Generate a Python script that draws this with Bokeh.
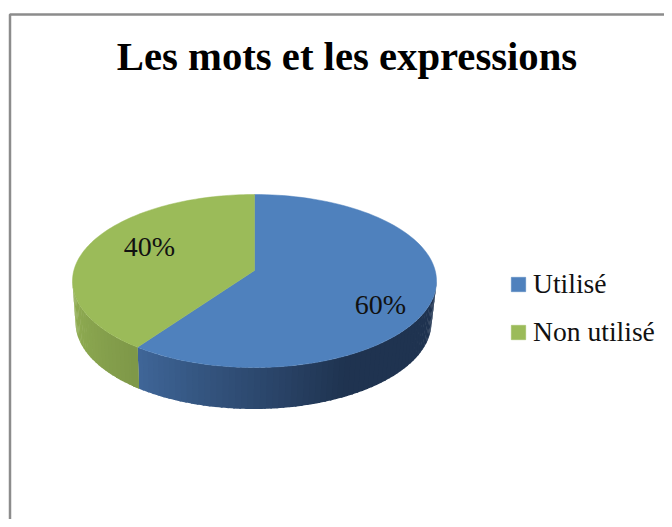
import numpy as np
from bokeh.plotting import figure
from bokeh.models import Range1d, ColumnDataSource, Legend, LegendItem
from bokeh.core.properties import value
from bokeh.embed import file_html
from bokeh.resources import INLINE

title_text = "Les mots et les expressions"
categories = ["Utilisé", "Non utilisé"]
shares = [60, 40]
share_labels = ["60%", "40%"]
top_colors = ["#4f81bd", "#9bbb59"]

FONT = "Liberation Serif"
# layout (picture pixels)
CX, CY, RX, RY = 254.0, 280.5, 182.0, 86.5
BX, BY, BRX, BRY = 253.0, 322.0, 178.0, 86.5
APEX = (254.0, 270.0)
LABEL_XY = [(380, 304), (149, 246)]


def warp(a):
    return a + 4.2 * np.sin(np.radians(2 * a))


def top_pt(a):
    t = np.radians(a)
    return CX + RX * np.sin(t), CY - RY * np.cos(t)


def bot_pt(a):
    t = np.radians(a)
    return BX + BRX * np.sin(t), BY - BRY * np.cos(t)


def lerp(c1, c2, f):
    return "#%02x%02x%02x" % tuple(int(round(a + (b - a) * f)) for a, b in zip(c1, c2))


p = figure(width=664, height=519, x_range=Range1d(0, 664), y_range=Range1d(519, 0),
           toolbar_location=None, output_backend="svg", min_border=0,
           x_axis_type=None, y_axis_type=None, outline_line_color=None)
p.grid.visible = False

# slice angles from values
total = sum(shares)
edges = [0.0]
for s in shares:
    edges.append(edges[-1] + 360.0 * s / total)
ang = [float(warp(e)) for e in edges]

# side wall strips (front half only)
split = ang[1]
xs, ys, cols = [], [], []
ts = np.arange(90.0, 270.0, 2.0)
BLUE_STOPS = [(90, (0x1f, 0x33, 0x50)), (150, (0x1f, 0x33, 0x50)), (220, (0x3f, 0x66, 0x98))]
GREEN_STOPS = [(220, (0x7e, 0x98, 0x48)), (270, (0x93, 0xb0, 0x54))]


def side_color(t, stops):
    for (t0, c0), (t1, c1) in zip(stops, stops[1:]):
        if t <= t1:
            return lerp(c0, c1, max(0.0, (t - t0) / (t1 - t0)))
    return lerp(stops[-1][1], stops[-1][1], 0)


for t in ts:
    t2 = t + 2.6
    if t < split <= t + 2.0:
        t2 = split
    seg = np.linspace(t, t2, 3)
    tx, ty = top_pt(seg)
    bx, by = bot_pt(seg[::-1])
    xs.append(np.concatenate([tx, bx]).tolist())
    ys.append(np.concatenate([ty, by]).tolist())
    cols.append(side_color(t + 1, BLUE_STOPS if t < split else GREEN_STOPS))
p.patches(xs, ys, fill_color=cols, line_color=None)
# re-draw the first green strip so the edge between the walls stays sharp
seg = np.linspace(split, split + 3, 3)
tx, ty = top_pt(seg)
bx, by = bot_pt(seg[::-1])
p.patch(np.concatenate([tx, bx]), np.concatenate([ty, by]), fill_color=side_color(split + 1, GREEN_STOPS), line_color=None)

# top faces
renderers = []
for i, c in enumerate(top_colors):
    a = np.linspace(ang[i], ang[i + 1], 120)
    ex, ey = top_pt(a)
    r = p.patch(np.concatenate([[APEX[0]], ex]), np.concatenate([[APEX[1]], ey]),
                fill_color=c, line_color=c, line_width=0.5)
    renderers.append(r)

# slice labels
src = ColumnDataSource(dict(x=[q[0] for q in LABEL_XY], y=[q[1] for q in LABEL_XY], t=share_labels))
p.text("x", "y", text="t", source=src, text_font=value(FONT), text_font_size="28px",
       text_color="#111111", text_align="center", text_baseline="middle")

# title
p.text([346.5], [56], text=[title_text], text_font=value(FONT), text_font_style="bold",
       text_font_size="40.7px", text_color="#000000", text_align="center", text_baseline="middle")

# chart border (top and left only are inside the crop)
p.line([9.5, 9.5, 664], [519, 14, 14], line_color="#8c8c8c", line_width=2.5)

legend = Legend(items=[LegendItem(label=c, renderers=[r]) for c, r in zip(categories, renderers)],
                location=(509, 171), orientation="vertical", background_fill_alpha=0,
                border_line_color=None, padding=0, margin=0, glyph_width=18, glyph_height=18,
                label_height=15, label_standoff=6, spacing=16,
                label_text_font=FONT, label_text_font_size="27.6px", label_text_color="#111111",
                label_text_baseline="middle")
p.add_layout(legend, "center")

open("out.html", "w").write(file_html(p, INLINE))
